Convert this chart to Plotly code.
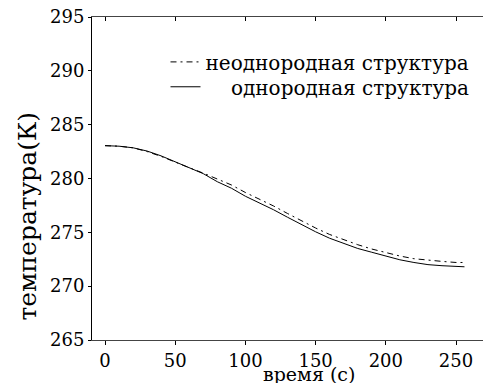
import plotly.graph_objects as go

time_s = [0, 10, 20, 30, 40, 50, 60, 70, 80, 90, 100, 110, 120, 130, 140,
          150, 160, 170, 180, 190, 200, 210, 220, 230, 240, 250, 256]
temp_nonuniform = [283.05, 283.0, 282.85, 282.5, 282.05, 281.5, 281.0, 280.5,
                   279.95, 279.4, 278.7, 278.1, 277.45, 276.75, 276.05, 275.4,
                   274.8, 274.3, 273.85, 273.45, 273.1, 272.8, 272.55, 272.4,
                   272.3, 272.2, 272.2]
temp_uniform = [283.05, 283.0, 282.85, 282.55, 282.1, 281.55, 281.05, 280.45,
                279.7, 279.1, 278.35, 277.75, 277.1, 276.4, 275.7, 275.05,
                274.45, 273.95, 273.5, 273.15, 272.8, 272.45, 272.2, 272.0,
                271.9, 271.85, 271.8]
x_ticks = [0, 50, 100, 150, 200, 250]
y_ticks = [265, 270, 275, 280, 285, 290, 295]
label_nonuniform = "неоднородная структура"
label_uniform = "\u00a0\u00a0\u00a0\u00a0однородная структура"
x_title = "время (с)"
y_title = "температура(К)"

FONT = "DejaVu Serif"

fig = go.Figure()
fig.add_trace(go.Scatter(x=time_s, y=temp_nonuniform, mode="lines",
                         name=label_nonuniform, legend="legend",
                         line=dict(color="black", width=1, dash="6px,4px,2px,4px")))
fig.add_trace(go.Scatter(x=time_s, y=temp_uniform, mode="lines",
                         name=label_uniform, legend="legend2",
                         line=dict(color="black", width=1)))
# invisible trace to carry the top axis
fig.add_trace(go.Scatter(x=[time_s[0]], y=[temp_uniform[0]], xaxis="x2",
                         mode="markers", marker=dict(opacity=0),
                         showlegend=False, hoverinfo="skip"))

legend_common = dict(xanchor="left", yanchor="middle", bgcolor="rgba(0,0,0,0)",
                     font=dict(family=FONT, size=20, color="black"),
                     itemwidth=30)

fig.update_layout(
    width=483, height=383,
    margin=dict(l=92, r=0, t=17, b=43, autoexpand=False),
    paper_bgcolor="white", plot_bgcolor="white",
    font=dict(family=FONT, size=18, color="black"),
    showlegend=True,
    legend=dict(x=0.188, y=0.861, **legend_common),
    legend2=dict(x=0.188, y=0.784, **legend_common),
    xaxis=dict(range=[-9.26, 269.2], tickvals=x_ticks, ticks="outside",
               ticklen=4, tickcolor="black", showline=True, linecolor="#444",
               linewidth=1, showgrid=False, zeroline=False, automargin=False,
               tickfont=dict(family=FONT, size=18)),
    xaxis2=dict(overlaying="x", side="top", matches="x", tickvals=x_ticks,
                ticks="inside", ticklen=4, tickcolor="black", showline=True,
                linecolor="#444", linewidth=1, showgrid=False, zeroline=False,
                showticklabels=False, automargin=False),
    yaxis=dict(range=[265, 295], tickvals=y_ticks, ticks="outside",
               ticklen=3, tickcolor="black", showline=True, linecolor="black",
               linewidth=1, showgrid=False, zeroline=False, automargin=False,
               tickfont=dict(family=FONT, size=18)),
    annotations=[
        dict(text=y_title, xref="paper", yref="paper", x=0, y=0.382,
             xshift=-64, xanchor="center", yanchor="middle", textangle=-90,
             showarrow=False, font=dict(family=FONT, size=25)),
        dict(text=x_title, xref="paper", yref="paper", x=0.555, y=0,
             yshift=-34, xanchor="center", yanchor="middle",
             showarrow=False, font=dict(family=FONT, size=19)),
    ],
)

fig.write_html("out.html", config={"displayModeBar": False},
               post_script="document.body.style.margin='0';document.body.style.padding='0';")
